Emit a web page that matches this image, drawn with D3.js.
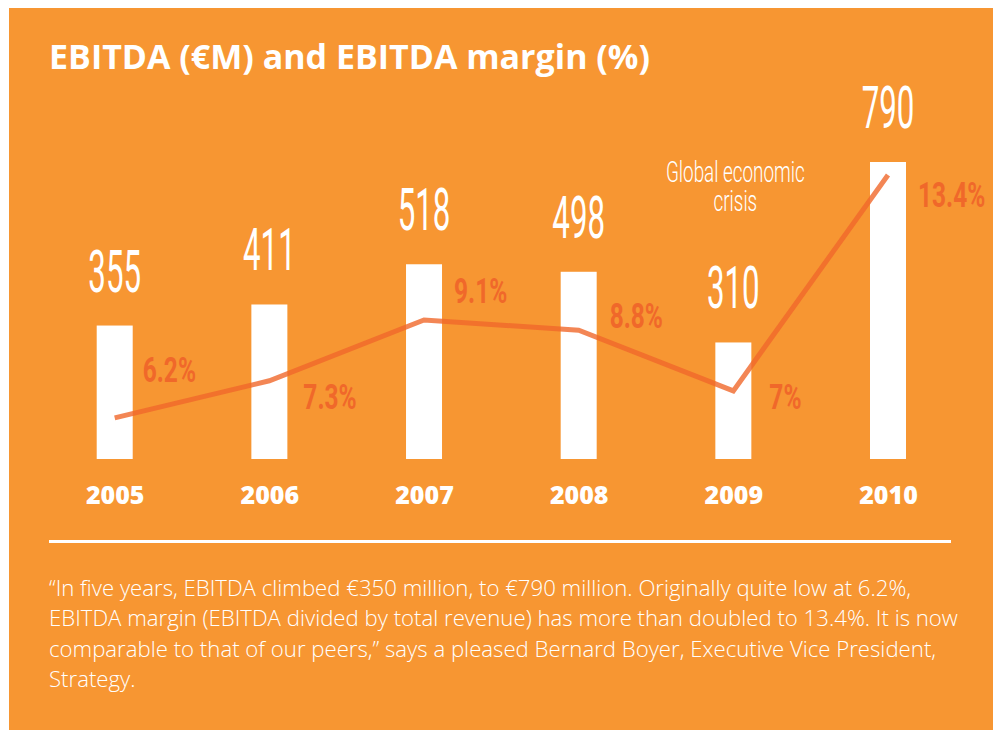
<!DOCTYPE html>
<html>
<head>
<meta charset="utf-8">
<title>EBITDA and EBITDA margin</title>
<script src="https://cdn.jsdelivr.net/npm/d3@7"></script>
<style>
  body { margin: 0; background: #fff; }
  svg { display: block; }
</style>
</head>
<body>
<script>

// data
var years = ["2005", "2006", "2007", "2008", "2009", "2010"];
var ebitda = [355, 411, 518, 498, 310, 790];
var margins = [6.2, 7.3, 9.1, 8.8, 7.0, 13.4];
var marginLabels = ["6.2%", "7.3%", "9.1%", "8.8%", "7%", "13.4%"];
var noteLines = ["Global economic", "crisis"];
var titleText = "EBITDA (\u20acM) and EBITDA margin (%)";
var quoteLines = [
  "\u201cIn five years, EBITDA climbed \u20ac350 million, to \u20ac790 million. Originally quite low at 6.2%,",
  "EBITDA margin (EBITDA divided by total revenue) has more than doubled to 13.4%. It is now",
  "comparable to that of our peers,\u201d says a pleased Bernard Boyer, Executive Vice President,",
  "Strategy."
];

// layout
var W = 1002, H = 730;
var orange = "#F79632", dark = "#F0682A";
var barW = 36;
// nudges for the margin labels (dx from bar centre, dy from line point)
var labelOffsets = [[28, -36], [34, 28], [30, -17], [31, -2], [36, 18], [30, 32]];

var svg = d3.select("body").append("svg")
  .attr("width", W)
  .attr("height", H);

svg.append("rect")
  .attr("x", 9).attr("y", 8)
  .attr("width", 984).attr("height", H - 8)
  .attr("fill", orange);

svg.append("text")
  .attr("x", 49).attr("y", 69)
  .attr("fill", "#fff")
  .style("font-family", "'Open Sans'")
  .style("font-weight", 700)
  .style("font-size", "34px")
  .text(titleText);

// scales
var x = d3.scalePoint().domain(years).range([114.7, 888]);
var y = d3.scaleLinear().domain([0, 790]).range([459, 162]);
var yM = d3.scaleLinear().domain([0, 13.4]).range([627, 175]);

var data = years.map(function(d, i) {
  return {year: d, value: ebitda[i], margin: margins[i], label: marginLabels[i], off: labelOffsets[i]};
});

// bars
svg.selectAll(".bar")
  .data(data)
  .enter().append("rect")
  .attr("class", "bar")
  .attr("x", function(d) { return x(d.year) - barW / 2; })
  .attr("width", barW)
  .attr("y", function(d) { return y(d.value); })
  .attr("height", function(d) { return y(0) - y(d.value); })
  .attr("fill", "#fff");

// value labels (condensed look via horizontal squeeze)
svg.selectAll(".val")
  .data(data)
  .enter().append("g")
  .attr("class", "val")
  .attr("transform", function(d) { return "translate(" + x(d.year) + "," + (y(d.value) - 34) + ") scale(0.53,1)"; })
  .append("text")
  .attr("text-anchor", "middle")
  .attr("fill", "#fff")
  .style("font-family", "Roboto")
  .style("font-weight", 400)
  .style("font-size", "59px")
  .text(function(d) { return d.value; });

// margin line
var line = d3.line()
  .x(function(d) { return x(d.year); })
  .y(function(d) { return yM(d.margin); });

svg.append("path")
  .datum(data)
  .attr("d", line)
  .attr("fill", "none")
  .attr("stroke", dark)
  .attr("stroke-opacity", 0.8)
  .attr("stroke-width", 5);

// margin labels
svg.selectAll(".pct")
  .data(data)
  .enter().append("g")
  .attr("class", "pct")
  .attr("transform", function(d) { return "translate(" + (x(d.year) + d.off[0]) + "," + (yM(d.margin) + d.off[1]) + ") scale(0.7,1)"; })
  .append("text")
  .attr("fill", dark)
  .style("font-family", "Roboto")
  .style("font-weight", 700)
  .style("font-size", "35px")
  .text(function(d) { return d.label; });

// note over 2009
svg.selectAll(".note")
  .data(noteLines)
  .enter().append("g")
  .attr("class", "note")
  .attr("transform", function(d, i) { return "translate(" + (x("2009") + 2) + "," + (181.5 + i * 29.2) + ") scale(0.64,1)"; })
  .append("text")
  .attr("text-anchor", "middle")
  .attr("fill", "#fff")
  .style("font-family", "Roboto")
  .style("font-weight", 300)
  .style("font-size", "29.5px")
  .text(function(d) { return d; });

// year axis
svg.append("g")
  .attr("transform", "translate(0,504)")
  .call(d3.axisBottom(x).tickSize(0).tickPadding(0))
  .call(function(g) { g.select(".domain").remove(); })
  .selectAll("text")
  .attr("dy", 0)
  .attr("fill", "#fff")
  .style("font-family", "'Open Sans'")
  .style("font-weight", 800)
  .style("font-size", "25px");

// separator
svg.append("line")
  .attr("x1", 49).attr("x2", 951)
  .attr("y1", 541.5).attr("y2", 541.5)
  .attr("stroke", "#fff")
  .attr("stroke-width", 3);

// quote
svg.append("g").selectAll("text")
  .data(quoteLines)
  .enter().append("text")
  .attr("x", 49)
  .attr("y", function(d, i) { return 595.7 + i * 30.4; })
  .attr("fill", "#fff")
  .style("font-family", "'Open Sans'")
  .style("font-weight", 300)
  .style("font-size", "22.2px")
  .text(function(d) { return d; });

</script>
</body>
</html>
